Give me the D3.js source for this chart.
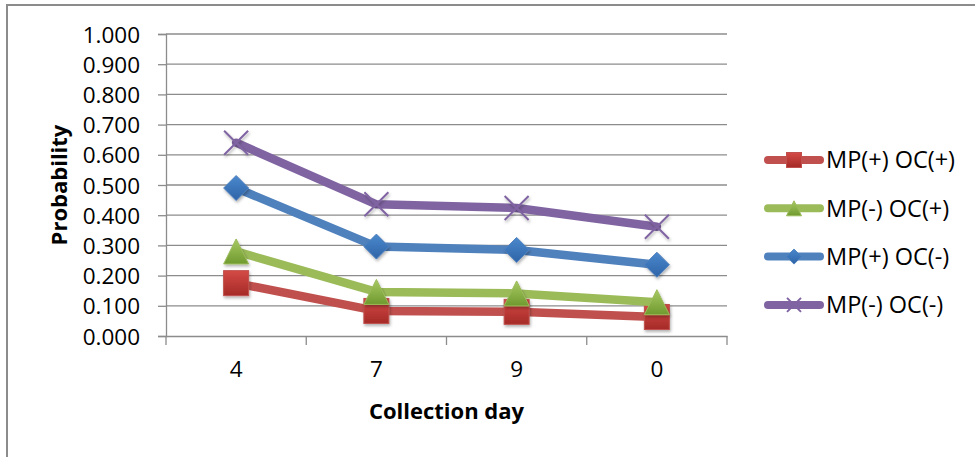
<!DOCTYPE html>
<html>
<head>
<meta charset="utf-8">
<script src="https://cdn.jsdelivr.net/npm/d3@7"></script>
<style>
  html, body { margin: 0; padding: 0; background: #fff; }
  svg { display: block; }
  text { font-family: "Open Sans", Lato, sans-serif; fill: #000; }
</style>
</head>
<body>
<svg id="chart" width="975" height="457"></svg>
<script>
const categories = ["4", "7", "9", "0"];
const seriesNames = ["MP(+) OC(+)", "MP(-) OC(+)", "MP(+) OC(-)", "MP(-) OC(-)"];
const valuesMPpOCp = [0.175, 0.083, 0.080, 0.063];
const valuesMPmOCp = [0.280, 0.146, 0.141, 0.112];
const valuesMPpOCm = [0.490, 0.296, 0.285, 0.236];
const valuesMPmOCm = [0.640, 0.436, 0.424, 0.362];
const yTicks = [0, 0.1, 0.2, 0.3, 0.4, 0.5, 0.6, 0.7, 0.8, 0.9, 1.0];
const seriesColors = ["#C0504D", "#9BBB59", "#4F81BD", "#8064A2"];
const seriesMarkers = ["square", "triangle", "diamond", "x"];

const series = [valuesMPpOCp, valuesMPmOCp, valuesMPpOCm, valuesMPmOCm].map((vals, i) => ({
  name: seriesNames[i], color: seriesColors[i], marker: seriesMarkers[i],
  values: vals.map((v, j) => ({ cat: categories[j], v }))
}));

const svg = d3.select("#chart");
const plot = { left: 166, right: 727, top: 34, bottom: 336 };

// outer border
svg.append("rect").attr("x", 7).attr("y", 5).attr("width", 980).attr("height", 470)
  .attr("fill", "none").attr("stroke", "#8c8c8c").attr("stroke-width", 2);

const defs = svg.append("defs");
const grads = [["#d44a46", "#a52a27"], ["#a8c964", "#6f9a2f"], ["#4a88cc", "#2f64a8"], ["#8a6cad", "#6a4e8e"]];
grads.forEach((g, i) => {
  const lg = defs.append("linearGradient").attr("id", "g" + i).attr("x1", 0).attr("y1", 0).attr("x2", 0).attr("y2", 1);
  lg.append("stop").attr("offset", "0%").attr("stop-color", g[0]);
  lg.append("stop").attr("offset", "100%").attr("stop-color", g[1]);
});
const filt = defs.append("filter").attr("id", "shadow").attr("x", "-50%").attr("y", "-50%").attr("width", "200%").attr("height", "200%");
filt.append("feDropShadow").attr("dx", 1).attr("dy", 2).attr("stdDeviation", 1.5).attr("flood-color", "#000").attr("flood-opacity", 0.3);

const x = d3.scaleBand().domain(categories).range([plot.left, plot.right]).padding(0);
const y = d3.scaleLinear().domain([0, 1]).range([plot.bottom, plot.top]);

// gridlines
svg.append("g").selectAll("line").data(yTicks.filter(t => t > 0)).join("line")
  .attr("x1", plot.left).attr("x2", plot.right)
  .attr("y1", d => y(d)).attr("y2", d => y(d))
  .attr("stroke", "#8c8c8c").attr("stroke-width", 1.3);

// y axis
const yAxis = svg.append("g").attr("transform", `translate(${plot.left},0)`)
  .call(d3.axisLeft(y).tickValues(yTicks).tickFormat(d3.format(".3f")).tickSize(8).tickPadding(18));
yAxis.select(".domain").attr("stroke", "#8c8c8c").attr("stroke-width", 1.3);
yAxis.selectAll(".tick line").attr("stroke", "#8c8c8c").attr("stroke-width", 1.3);
yAxis.selectAll(".tick text").style("font-size", "22.5px").attr("dy", "0.36em");

// x axis
const xAxis = svg.append("g").attr("transform", `translate(0,${plot.bottom})`)
  .call(d3.axisBottom(x).tickSize(0).tickPadding(25));
xAxis.select(".domain").attr("stroke", "#8c8c8c").attr("stroke-width", 1.3);
xAxis.selectAll(".tick text").style("font-size", "22.5px");
// category boundary tick marks
const bounds = categories.map(c => x(c)).concat([x(categories[categories.length - 1]) + x.bandwidth()]);
svg.append("g").selectAll("line").data(bounds).join("line")
  .attr("x1", d => d).attr("x2", d => d)
  .attr("y1", plot.bottom).attr("y2", plot.bottom + 9)
  .attr("stroke", "#8c8c8c").attr("stroke-width", 1.3);

// axis titles
svg.append("text").attr("transform", `translate(67,${(plot.top + plot.bottom) / 2}) rotate(-90)`)
  .attr("text-anchor", "middle").style("font-size", "22px").style("font-weight", "bold").text("Probability");
svg.append("text").attr("x", (plot.left + plot.right) / 2).attr("y", 419)
  .attr("text-anchor", "middle").style("font-size", "22px").style("font-weight", "bold").text("Collection day");

const cx = d => x(d.cat) + x.bandwidth() / 2;
const line = d3.line().x(cx).y(d => y(d.v));

function drawMarker(g, type, color, gid, size) {
  const s = size;
  if (type === "square") {
    g.append("rect").attr("x", -s / 2).attr("y", -s / 2).attr("width", s).attr("height", s)
      .attr("fill", `url(#${gid})`).attr("stroke", color).attr("stroke-width", 1);
  } else if (type === "triangle") {
    g.append("path").attr("d", `M0,${-s / 2} L${s / 2},${s / 2} L${-s / 2},${s / 2} Z`)
      .attr("fill", `url(#${gid})`).attr("stroke", color).attr("stroke-width", 1);
  } else if (type === "diamond") {
    g.append("path").attr("d", `M0,${-s / 2} L${s / 2},0 L0,${s / 2} L${-s / 2},0 Z`)
      .attr("fill", `url(#${gid})`).attr("stroke", color).attr("stroke-width", 1);
  } else if (type === "x") {
    const h = s / 2;
    g.append("path").attr("d", `M${-h},${-h} L${h},${h} M${h},${-h} L${-h},${h}`)
      .attr("stroke", color).attr("stroke-width", 2).attr("fill", "none");
  }
}

series.forEach((s, i) => {
  const g = svg.append("g");
  g.append("path").datum(s.values).attr("d", line)
    .attr("fill", "none").attr("stroke", s.color).attr("stroke-width", 8.5)
    .attr("stroke-linejoin", "round").attr("stroke-linecap", "round");
  g.selectAll("g.m").data(s.values).join("g").attr("class", "m")
    .attr("transform", d => `translate(${cx(d)},${y(d.v)})`)
    .attr("filter", "url(#shadow)")
    .each(function () { drawMarker(d3.select(this), s.marker, s.color, "g" + i, s.marker === "x" ? 24 : 25); });
});

// legend
const legend = svg.append("g");
series.forEach((s, i) => {
  const ly = 160 + i * 48.3;
  const lg = legend.append("g").attr("transform", `translate(0,${ly})`);
  lg.append("line").attr("x1", 768).attr("x2", 820).attr("y1", 0).attr("y2", 0)
    .attr("stroke", s.color).attr("stroke-width", 8).attr("stroke-linecap", "round");
  const mg = lg.append("g").attr("transform", "translate(794,0)");
  drawMarker(mg, s.marker, s.color, "g" + i, s.marker === "x" ? 14 : 15);
  lg.append("text").attr("x", 826).attr("y", 0).attr("dy", "0.36em").style("font-size", "23.5px").text(s.name);
});
</script>
</body>
</html>
